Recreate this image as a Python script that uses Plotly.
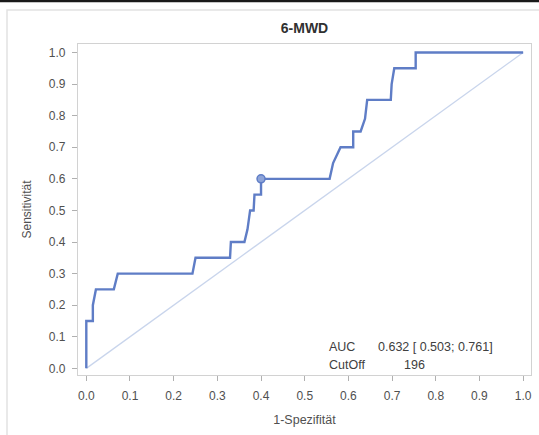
import plotly.graph_objects as go

# ROC curve for 6-MWD (false positive rate vs. sensitivity)
fpr = [0.0, 0.0, 0.015, 0.015, 0.022, 0.063, 0.072, 0.243, 0.250, 0.329, 0.331,
       0.362, 0.369, 0.375, 0.383, 0.385, 0.400, 0.400, 0.557, 0.565, 0.582,
       0.611, 0.611, 0.628, 0.638, 0.643, 0.697, 0.699, 0.705, 0.754, 0.754, 1.0]
tpr = [0.0, 0.15, 0.15, 0.20, 0.25, 0.25, 0.30, 0.30, 0.35, 0.35, 0.40,
       0.40, 0.44, 0.50, 0.50, 0.55, 0.55, 0.60, 0.60, 0.65, 0.70,
       0.70, 0.75, 0.75, 0.79, 0.85, 0.85, 0.90, 0.95, 0.95, 1.00, 1.00]

cutoff_point = (0.40, 0.60)
auc_text = "0.632 [ 0.503; 0.761]"
cutoff_value = "196"
ticks = [0.0, 0.1, 0.2, 0.3, 0.4, 0.5, 0.6, 0.7, 0.8, 0.9, 1.0]
tick_labels = [f"{t:.1f}" for t in ticks]

FONT = "Liberation Sans, Arial"
GREY = "#505050"

fig = go.Figure()

# reference diagonal
fig.add_trace(go.Scatter(x=[0, 1], y=[0, 1], mode="lines",
                         line=dict(color="#c9d5ec", width=1.3),
                         hoverinfo="skip", showlegend=False))

# ROC step curve
fig.add_trace(go.Scatter(x=fpr, y=tpr, mode="lines",
                         line=dict(color="#5f7dc6", width=2.4),
                         showlegend=False))

# optimal cut-off marker
fig.add_trace(go.Scatter(x=[cutoff_point[0]], y=[cutoff_point[1]], mode="markers",
                         marker=dict(size=8, color="#8ea4d8",
                                     line=dict(color="#5f7dc6", width=1.5)),
                         showlegend=False))

axis_common = dict(
    tickmode="array", tickvals=ticks, ticktext=tick_labels,
    showgrid=False, zeroline=False,
    showline=True, mirror=True, linecolor="#d2d2d2", linewidth=1.2,
    ticks="outside", ticklen=5, tickcolor="#b0b0b0",
    tickfont=dict(family=FONT, size=12, color=GREY),
)

fig.update_xaxes(range=[-0.019, 1.018], ticklabelstandoff=4,
                 title=dict(text="1-Spezifität", standoff=13,
                            font=dict(family=FONT, size=12.5, color=GREY)),
                 **axis_common)
fig.update_yaxes(range=[-0.021, 1.027], ticklabelstandoff=4,
                 title=dict(text="Sensitivität", standoff=14,
                            font=dict(family=FONT, size=12, color=GREY)),
                 **axis_common)

# statistics inset (positions in pixels, converted to paper units)
txt_font = dict(family=FONT, size=12.5, color="#404040")
for label, xp, yp, anchor in [("AUC", 327, 347, "left"),
                              (auc_text, 376, 347, "left"),
                              ("CutOff", 327, 365, "left"),
                              (cutoff_value, 414, 365, "center")]:
    fig.add_annotation(x=(xp - 78) / 453, y=(375 - yp) / 331,
                       xref="paper", yref="paper", text=label, showarrow=False,
                       font=txt_font, xanchor=anchor, yanchor="middle")

# outer frame and top rule
fig.add_shape(type="rect", xref="paper", yref="paper",
              x0=(7 - 78) / 453, x1=(545 - 78) / 453,
              y0=(375 - 440) / 331, y1=(375 - 10) / 331,
              line=dict(color="#e2e2e2", width=1.5), fillcolor="rgba(0,0,0,0)",
              layer="below")
fig.add_shape(type="line", xref="paper", yref="paper",
              x0=(-5 - 78) / 453, x1=(545 - 78) / 453,
              y0=(375 - 1) / 331, y1=(375 - 1) / 331,
              line=dict(color="#1a1a1a", width=2.5))

fig.update_layout(
    width=539, height=435,
    margin=dict(l=78, r=8, t=44, b=60),
    paper_bgcolor="white", plot_bgcolor="white",
    title=dict(text="<b>6-MWD</b>", x=304.5 / 539, xanchor="center",
               y=1 - 28 / 435, yanchor="middle",
               font=dict(family=FONT, size=14, color="#303030")),
)

fig.write_html("out.html")
